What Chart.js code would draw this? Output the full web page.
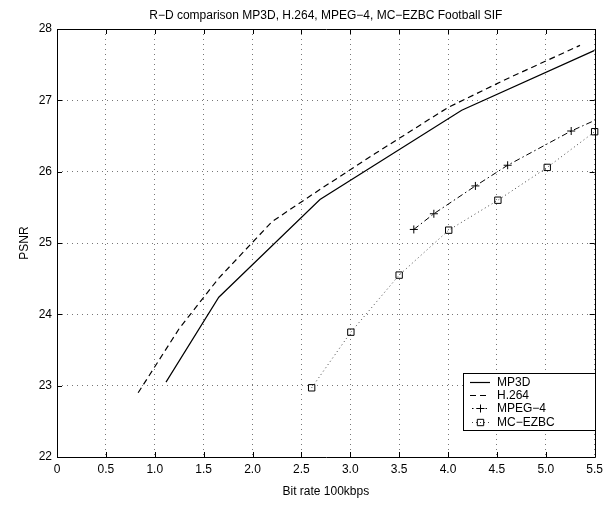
<!DOCTYPE html>
<html>
<head>
<meta charset="utf-8">
<title>R−D comparison Football SIF</title>
<script src="https://cdn.jsdelivr.net/npm/chart.js@4.4.0/dist/chart.umd.min.js"></script>
<style>
  html, body { margin: 0; padding: 0; background: #fff; }
  #wrap { width: 608px; height: 506px; }
</style>
</head>
<body>
<div id="wrap"><canvas id="grafico" width="608" height="506"></canvas></div>
<script>
// ticks de los ejes
const ticksX = [0, 0.5, 1, 1.5, 2, 2.5, 3, 3.5, 4, 4.5, 5, 5.5];
const ticksY = [22, 23, 24, 25, 26, 27, 28];

// series (bit rate en 100kbps, PSNR en dB)
const mp3dX = [1.115, 1.655, 2.69, 4.14, 5.5];
const mp3dY = [23.05, 24.24, 25.61, 26.86, 27.70];

const h264X = [0.83, 1.25, 1.65, 2.2, 2.7, 3.25, 4.0, 4.6, 5.35];
const h264Y = [22.90, 23.80, 24.50, 25.30, 25.76, 26.25, 26.90, 27.30, 27.77];

const mpeg4X = [3.65, 3.855, 4.28, 4.61, 5.26, 5.6];
const mpeg4Y = [25.19, 25.41, 25.80, 26.09, 26.57, 26.78];

const ezbcX = [2.605, 3.006, 3.5, 4.007, 4.51, 5.015, 5.5];
const ezbcY = [22.97, 23.75, 24.55, 25.18, 25.60, 26.06, 26.56];

const titulo = 'R\u2212D comparison MP3D, H.264, MPEG\u22124, MC\u2212EZBC Football SIF';
const etiquetaX = 'Bit rate 100kbps';
const etiquetaY = 'PSNR';

const FUENTE = '"Liberation Sans", Arial, Helvetica, sans-serif';
Chart.defaults.font.family = FUENTE;
Chart.defaults.font.size = 12;
Chart.defaults.color = '#000';

function pares(xs, ys) {
  return xs.map((x, i) => ({ x: x, y: ys[i] }));
}

// dibuja un marcador simple (cruz o cuadrado) para la leyenda
function marcador(ctx, estilo, x, y, r) {
  ctx.save();
  ctx.setLineDash([]);
  ctx.lineWidth = 1;
  ctx.strokeStyle = '#000';
  ctx.beginPath();
  if (estilo === 'cross') {
    ctx.moveTo(x - r, y); ctx.lineTo(x + r, y);
    ctx.moveTo(x, y - r); ctx.lineTo(x, y + r);
  } else if (estilo === 'rect') {
    const s = Math.SQRT1_2 * r;
    ctx.rect(x - s, y - s, 2 * s, 2 * s);
  }
  ctx.stroke();
  ctx.restore();
}

// caja, ticks hacia dentro, titulo, etiquetas y leyenda al estilo MATLAB
const decoracion = {
  id: 'decoracion',
  afterDraw(chart) {
    const ctx = chart.ctx;
    const a = chart.chartArea;
    const sx = chart.scales.x;
    const sy = chart.scales.y;
    const al = v => Math.round(v) + 0.5;

    ctx.save();
    ctx.strokeStyle = '#000';
    ctx.lineWidth = 1;
    ctx.setLineDash([]);
    ctx.beginPath();
    ctx.rect(al(a.left), al(a.top), Math.round(a.right) - Math.round(a.left), Math.round(a.bottom) - Math.round(a.top));
    ctx.stroke();

    const largo = 5;
    ctx.beginPath();
    ticksX.forEach(v => {
      const px = al(sx.getPixelForValue(v));
      ctx.moveTo(px, a.bottom); ctx.lineTo(px, a.bottom - largo);
      ctx.moveTo(px, a.top); ctx.lineTo(px, a.top + largo);
    });
    ticksY.forEach(v => {
      const py = al(sy.getPixelForValue(v));
      ctx.moveTo(a.left, py); ctx.lineTo(a.left + largo, py);
      ctx.moveTo(a.right, py); ctx.lineTo(a.right - largo, py);
    });
    ctx.stroke();

    // textos
    ctx.fillStyle = '#000';
    ctx.font = '12px ' + FUENTE;
    ctx.textAlign = 'center';
    ctx.textBaseline = 'middle';
    ctx.fillText(titulo, (a.left + a.right) / 2, 16);
    ctx.fillText(etiquetaX, (a.left + a.right) / 2, 492);
    ctx.save();
    ctx.translate(25, (a.top + a.bottom) / 2);
    ctx.rotate(-Math.PI / 2);
    ctx.fillText(etiquetaY, 0, 0);
    ctx.restore();

    // leyenda
    const caja = { x: 463.5, y: 373.5, w: 132, h: 57 };
    ctx.fillStyle = '#fff';
    ctx.fillRect(caja.x, caja.y, caja.w, caja.h);
    ctx.strokeStyle = '#000';
    ctx.strokeRect(caja.x, caja.y, caja.w, caja.h);

    const filas = [381.7, 395, 408.3, 421.7];
    const desfase = [0, 0, 7, 2];
    chart.data.datasets.forEach((ds, i) => {
      const y = Math.round(filas[i]) + 0.5;
      ctx.save();
      ctx.strokeStyle = ds.borderColor;
      ctx.lineWidth = ds.borderWidth;
      ctx.setLineDash(ds.borderDash || []);
      ctx.lineDashOffset = desfase[i];
      ctx.beginPath();
      ctx.moveTo(470, y); ctx.lineTo(490, y);
      ctx.stroke();
      ctx.restore();
      if (ds.pointRadius > 0) {
        marcador(ctx, ds.pointStyle, 480.5, y, ds.pointRadius);
      }
      ctx.fillStyle = '#000';
      ctx.textAlign = 'left';
      ctx.textBaseline = 'middle';
      ctx.fillText(ds.label, 497, filas[i] + 0.5);
    });
    ctx.restore();
  }
};

const ctx = document.getElementById('grafico');
new Chart(ctx, {
  type: 'scatter',
  data: {
    datasets: [
      {
        label: 'MP3D',
        data: pares(mp3dX, mp3dY),
        showLine: true,
        borderColor: '#000',
        borderWidth: 1.2,
        pointRadius: 0
      },
      {
        label: 'H.264',
        data: pares(h264X, h264Y),
        showLine: true,
        borderColor: '#000',
        borderWidth: 1.2,
        borderDash: [6, 4],
        pointRadius: 0
      },
      {
        label: 'MPEG\u22124',
        data: pares(mpeg4X, mpeg4Y),
        showLine: true,
        borderColor: '#000',
        borderWidth: 1,
        borderDash: [6, 3, 1.5, 3],
        pointStyle: 'cross',
        pointRadius: 4,
        pointBorderColor: '#000',
        pointBorderWidth: 1
      },
      {
        label: 'MC\u2212EZBC',
        data: pares(ezbcX, ezbcY),
        showLine: true,
        borderColor: '#444',
        borderWidth: 1,
        borderDash: [1, 3],
        pointStyle: 'rect',
        pointRadius: 4.5,
        pointBackgroundColor: 'rgba(0,0,0,0)',
        pointBorderColor: '#000',
        pointBorderWidth: 1,
        clip: false
      }
    ]
  },
  options: {
    responsive: false,
    animation: false,
    events: [],
    layout: { padding: { top: 29, right: 11, left: 0, bottom: 0 } },
    plugins: {
      legend: { display: false },
      title: { display: false },
      tooltip: { enabled: false }
    },
    scales: {
      x: {
        type: 'linear',
        min: 0,
        max: 5.5,
        afterBuildTicks: s => { s.ticks = ticksX.map(v => ({ value: v })); },
        afterFit: s => { s.height = 49; },
        grid: { color: '#777', lineWidth: 1, drawTicks: false },
        border: { display: false, dash: [1, 4] },
        ticks: { autoSkip: false, maxRotation: 0, padding: 5, font: { size: 12 }, color: '#000' }
      },
      y: {
        type: 'linear',
        min: 22,
        max: 28,
        afterBuildTicks: s => { s.ticks = ticksY.map(v => ({ value: v })); },
        afterFit: s => { s.width = 57; },
        grid: { color: '#777', lineWidth: 1, drawTicks: false },
        border: { display: false, dash: [1, 4] },
        ticks: { padding: 5, font: { size: 12 }, color: '#000' }
      }
    }
  },
  plugins: [decoracion]
});
</script>
</body>
</html>
